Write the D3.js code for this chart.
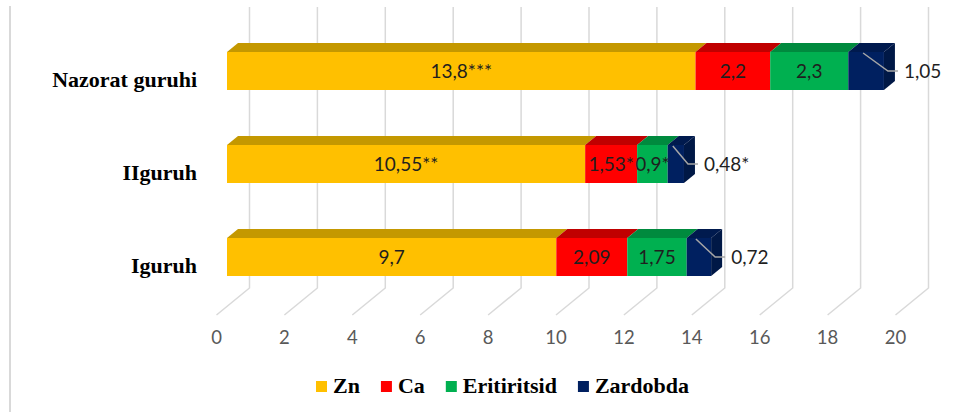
<!DOCTYPE html>
<html>
<head>
<meta charset="utf-8">
<script src="https://cdn.jsdelivr.net/npm/d3@7"></script>
<style>
  html, body { margin: 0; padding: 0; background: #fff; }
  .cat { font-family: "Liberation Serif", "Times New Roman", serif; font-weight: bold; font-size: 22px; fill: #000; }
  .val { font-family: Lato, "Open Sans", sans-serif; font-size: 19px; fill: #1f1f1f; }
  .tick { font-family: Lato, "Open Sans", sans-serif; font-size: 18.5px; fill: #595959; }
</style>
</head>
<body>
<div id="chart"></div>
<script>
const categories = ["Nazorat guruhi", "IIguruh", "Iguruh"];
const seriesNames = ["Zn", "Ca", "Eritiritsid", "Zardobda"];
const zn = [13.8, 10.55, 9.7];
const ca = [2.2, 1.53, 2.09];
const eritiritsid = [2.3, 0.9, 1.75];
const zardobda = [1.05, 0.48, 0.72];
const znLabels = ["13,8***", "10,55**", "9,7"];
const caLabels = ["2,2", "1,53*", "2,09"];
const eritLabels = ["2,3", "0,9*", "1,75"];
const zardLabels = ["1,05", "0,48*", "0,72"];
const ticks = [0, 2, 4, 6, 8, 10, 12, 14, 16, 18, 20];

const colors = ["#FFC000", "#FF0000", "#00B050", "#002060"];
const topColors = ["#C49800", "#C00000", "#008A3E", "#001A4E"];
const sideColor = "#001846";

const W = 978, H = 412;
const svg = d3.select("#chart").append("svg").attr("width", W).attr("height", H);

// oblique 3d: floor front, back wall, bar front plane
const x = d3.scaleLinear().domain([0, 20]).range([0, 679]);
const frontX = 216.5, backX = 249.5, barX = 227;
const floorFrontY = 315, floorBackY = 288, wallTop = 7;
const depthX = 11, depthY = -9;
const barH = 38;
const y = d3.scalePoint().domain(categories).range([52, 238]);

// left frame line
svg.append("line").attr("x1", 10).attr("x2", 10).attr("y1", 6).attr("y2", H)
  .attr("stroke", "#d9d9d9").attr("stroke-width", 2);

// gridlines on back wall + floor
const grid = svg.append("g").attr("fill", "none").attr("stroke", "#d9d9d9").attr("stroke-width", 1.5);
grid.selectAll("path").data(ticks).enter().append("path")
  .attr("d", d => "M" + (backX + x(d)) + "," + wallTop + "V" + floorBackY + "L" + (frontX + x(d)) + "," + floorFrontY);

svg.append("g").selectAll("text").data(ticks).enter().append("text")
  .attr("class", "tick")
  .attr("x", d => frontX + x(d))
  .attr("y", 344)
  .attr("text-anchor", "middle")
  .text(d => d);

// stack data
const rows = categories.map((c, i) => {
  const vals = [zn[i], ca[i], eritiritsid[i], zardobda[i]];
  const labs = [znLabels[i], caLabels[i], eritLabels[i], zardLabels[i]];
  let acc = 0;
  const segs = vals.map((v, k) => {
    const s = {k: k, x0: acc, x1: acc + v, label: labs[k]};
    acc += v;
    return s;
  });
  return {cat: c, segs: segs, total: acc};
});

const bars = svg.append("g");
rows.forEach(r => {
  const g = bars.append("g");
  const y0 = y(r.cat);
  r.segs.forEach(s => {
    const a = barX + x(s.x0), b = barX + x(s.x1);
    g.append("path")
      .attr("d", "M" + a + "," + y0 + "L" + b + "," + y0 + "L" + (b + depthX) + "," + (y0 + depthY) + "L" + (a + depthX) + "," + (y0 + depthY) + "Z")
      .attr("fill", topColors[s.k]);
    g.append("rect")
      .attr("x", a).attr("y", y0).attr("width", b - a).attr("height", barH)
      .attr("fill", colors[s.k]);
  });
  const e = barX + x(r.total);
  g.append("path")
    .attr("d", "M" + e + "," + y0 + "L" + (e + depthX) + "," + (y0 + depthY) + "L" + (e + depthX) + "," + (y0 + depthY + barH) + "L" + e + "," + (y0 + barH) + "Z")
    .attr("fill", sideColor);

  // labels inside first three segments
  r.segs.slice(0, 3).forEach(s => {
    g.append("text").attr("class", "val")
      .attr("x", barX + x((s.x0 + s.x1) / 2))
      .attr("y", y0 + barH / 2)
      .attr("dy", "0.36em")
      .attr("text-anchor", "middle")
      .text(s.label);
  });

  // leader line + label for last segment
  const last = r.segs[3];
  const mid = barX + x((last.x0 + last.x1) / 2) - 3;
  const ly = y0 + barH / 2;
  g.append("path")
    .attr("d", "M" + mid + "," + (y0 + 1) + "L" + (e + 4) + "," + ly + "H" + (e + 14))
    .attr("fill", "none").attr("stroke", "#a6a6a6").attr("stroke-width", 1.5);
  g.append("text").attr("class", "val")
    .attr("x", e + 20).attr("y", ly).attr("dy", "0.36em")
    .text(last.label);

  // category label
  svg.append("text").attr("class", "cat")
    .attr("x", 197).attr("y", y0 + 35)
    .attr("text-anchor", "end")
    .text(r.cat);
});

// legend
const legend = svg.append("g");
let lx = 316;
seriesNames.forEach((n, k) => {
  legend.append("rect").attr("x", lx).attr("y", 381).attr("width", 11).attr("height", 11).attr("fill", colors[k]);
  const t = legend.append("text").attr("class", "cat")
    .attr("x", lx + 17).attr("y", 393).text(n);
  lx += 17 + t.node().getComputedTextLength() + 21;
});
</script>
</body>
</html>
